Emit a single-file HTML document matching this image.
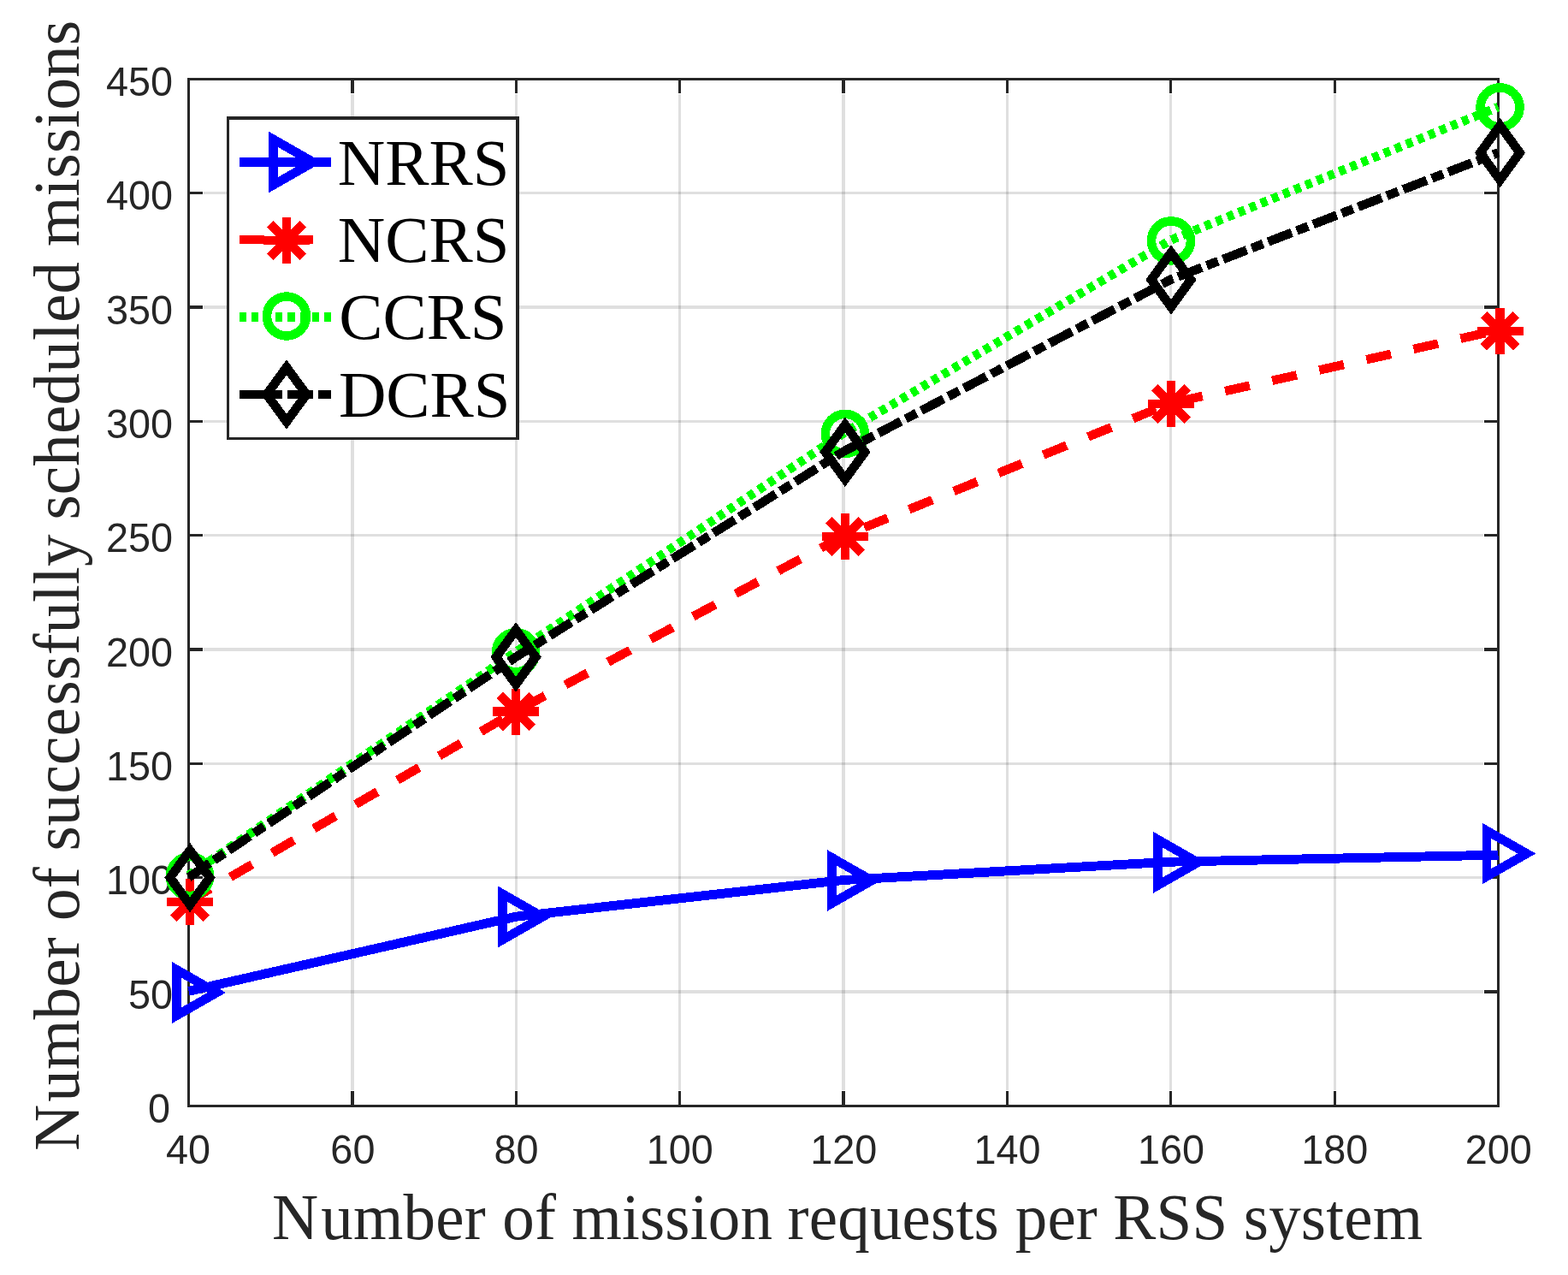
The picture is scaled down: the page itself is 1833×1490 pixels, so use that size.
<!DOCTYPE html>
<html lang="en"><head><meta charset="utf-8">
<title>Number of successfully scheduled missions</title>
<style>
html,body{margin:0;padding:0;background:#fff;}
body{width:1833px;height:1490px;overflow:hidden;}
svg{display:block;}
.tk{font-family:"Liberation Sans",Arial,Helvetica,sans-serif;font-size:46.8px;fill:#262626;}
.lb{font-family:"Liberation Serif","Times New Roman",Times,serif;font-size:75px;fill:#262626;}
.lg{font-family:"Liberation Serif","Times New Roman",Times,serif;font-size:76.8px;fill:#000;}
</style></head><body>
<svg width="1833" height="1490" viewBox="0 0 1833 1490">
<rect x="0" y="0" width="1833" height="1490" fill="#fff"/>
<g fill="#262626" fill-opacity="0.15" shape-rendering="crispEdges">
<rect x="410" y="110" width="4" height="1164"/>
<rect x="602" y="110" width="3" height="1164"/>
<rect x="793" y="110" width="3" height="1164"/>
<rect x="984" y="110" width="4" height="1164"/>
<rect x="1176" y="110" width="3" height="1164"/>
<rect x="1367" y="110" width="3" height="1164"/>
<rect x="1559" y="110" width="3" height="1164"/>
<rect x="238" y="1157" width="1496" height="4"/>
<rect x="238" y="1024" width="1496" height="3"/>
<rect x="238" y="891" width="1496" height="3"/>
<rect x="238" y="757" width="1496" height="4"/>
<rect x="238" y="624" width="1496" height="3"/>
<rect x="238" y="491" width="1496" height="3"/>
<rect x="238" y="357" width="1496" height="4"/>
<rect x="238" y="224" width="1496" height="3"/>
</g>
<g fill="#262626" shape-rendering="crispEdges">
<rect x="219" y="91" width="1534" height="3"/>
<rect x="219" y="1291" width="1534" height="3"/>
<rect x="219" y="91" width="3" height="1203"/>
<rect x="1750" y="91" width="3" height="1203"/>
<rect x="410" y="94" width="4" height="15"/>
<rect x="410" y="1275" width="4" height="16"/>
<rect x="602" y="94" width="3" height="15"/>
<rect x="602" y="1275" width="3" height="16"/>
<rect x="793" y="94" width="3" height="15"/>
<rect x="793" y="1275" width="3" height="16"/>
<rect x="984" y="94" width="4" height="15"/>
<rect x="984" y="1275" width="4" height="16"/>
<rect x="1176" y="94" width="3" height="15"/>
<rect x="1176" y="1275" width="3" height="16"/>
<rect x="1367" y="94" width="3" height="15"/>
<rect x="1367" y="1275" width="3" height="16"/>
<rect x="1559" y="94" width="3" height="15"/>
<rect x="1559" y="1275" width="3" height="16"/>
<rect x="222" y="1157" width="15" height="4"/>
<rect x="1735" y="1157" width="15" height="4"/>
<rect x="222" y="1024" width="15" height="3"/>
<rect x="1735" y="1024" width="15" height="3"/>
<rect x="222" y="891" width="15" height="3"/>
<rect x="1735" y="891" width="15" height="3"/>
<rect x="222" y="757" width="15" height="4"/>
<rect x="1735" y="757" width="15" height="4"/>
<rect x="222" y="624" width="15" height="3"/>
<rect x="1735" y="624" width="15" height="3"/>
<rect x="222" y="491" width="15" height="3"/>
<rect x="1735" y="491" width="15" height="3"/>
<rect x="222" y="357" width="15" height="4"/>
<rect x="1735" y="357" width="15" height="4"/>
<rect x="222" y="224" width="15" height="3"/>
<rect x="1735" y="224" width="15" height="3"/>
</g>
<g class="tk" text-anchor="middle">
<text transform="translate(219.9 1360) scale(1 1.02)">40</text>
<text transform="translate(412.38 1360) scale(1 1.02)">60</text>
<text transform="translate(603.45 1360) scale(1 1.02)">80</text>
<text transform="translate(794.83 1360) scale(1 1.02)">100</text>
<text transform="translate(986.2 1360) scale(1 1.02)">120</text>
<text transform="translate(1177.58 1360) scale(1 1.02)">140</text>
<text transform="translate(1368.95 1360) scale(1 1.02)">160</text>
<text transform="translate(1560.33 1360) scale(1 1.02)">180</text>
<text transform="translate(1751.7 1360) scale(1 1.02)">200</text>
</g>
<g class="tk" text-anchor="end">
<text transform="translate(199.1 1312) scale(1 1.02)">0</text>
<text transform="translate(202.1 1178.67) scale(1 1.02)">50</text>
<text transform="translate(202.1 1045.33) scale(1 1.02)">100</text>
<text transform="translate(202.1 912) scale(1 1.02)">150</text>
<text transform="translate(202.1 778.67) scale(1 1.02)">200</text>
<text transform="translate(202.1 645.33) scale(1 1.02)">250</text>
<text transform="translate(202.1 512) scale(1 1.02)">300</text>
<text transform="translate(202.1 378.67) scale(1 1.02)">350</text>
<text transform="translate(202.1 245.33) scale(1 1.02)">400</text>
<text transform="translate(202.1 112) scale(1 1.02)">450</text>
</g>
<g shape-rendering="crispEdges">
<polyline points="220.5,1158.37 603.25,1071.17 986,1028.5 1368.75,1007.17 1751.5,999.17" fill="none" stroke="#0000ff" stroke-width="10.9" stroke-linejoin="miter"/>
<polygon points="206.4,1133.2 253.3,1160 206.4,1186.8" fill="none" stroke="#0000ff" stroke-width="10.6" stroke-linejoin="miter" stroke-miterlimit="10"/>
<polygon points="587.5,1044.65 634.4,1071.45 587.5,1098.25" fill="none" stroke="#0000ff" stroke-width="10.6" stroke-linejoin="miter" stroke-miterlimit="10"/>
<polygon points="972.3,1002.2 1019.2,1029 972.3,1055.8" fill="none" stroke="#0000ff" stroke-width="10.6" stroke-linejoin="miter" stroke-miterlimit="10"/>
<polygon points="1353.4,981.1 1400.3,1007.9 1353.4,1034.7" fill="none" stroke="#0000ff" stroke-width="10.6" stroke-linejoin="miter" stroke-miterlimit="10"/>
<polygon points="1737.9,970.7 1784.8,997.5 1737.9,1024.3" fill="none" stroke="#0000ff" stroke-width="10.6" stroke-linejoin="miter" stroke-miterlimit="10"/>
<polyline points="220.5,1053.3 603.25,831.17 986,626.37 1368.75,471.17 1751.5,385.83" fill="none" stroke="#ff0000" stroke-width="10.5" stroke-linejoin="miter" stroke-dasharray="29.4 27.04"/>
<path d="M195 1054H249M222 1027V1081M202.91 1034.91L241.09 1073.09M202.91 1073.09L241.09 1034.91" fill="none" stroke="#ff0000" stroke-width="10.6"/>
<path d="M576.1 831.5H630.1M603.1 804.5V858.5M584.01 812.41L622.19 850.59M584.01 850.59L622.19 812.41" fill="none" stroke="#ff0000" stroke-width="10.6"/>
<path d="M960.9 627H1014.9M987.9 600V654M968.81 607.91L1006.99 646.09M968.81 646.09L1006.99 607.91" fill="none" stroke="#ff0000" stroke-width="10.6"/>
<path d="M1342 471.9H1396M1369 444.9V498.9M1349.91 452.81L1388.09 490.99M1349.91 490.99L1388.09 452.81" fill="none" stroke="#ff0000" stroke-width="10.6"/>
<path d="M1726.5 387H1780.5M1753.5 360V414M1734.41 367.91L1772.59 406.09M1734.41 406.09L1772.59 367.91" fill="none" stroke="#ff0000" stroke-width="10.6"/>
<polyline points="220.5,1023.17 603.25,761.83 986,506.37 1368.75,280.5 1751.5,125.03" fill="none" stroke="#00ff00" stroke-width="10.5" stroke-linejoin="miter" stroke-dasharray="8.06 6.05"/>
<circle cx="222" cy="1024" r="23" fill="none" stroke="#00ff00" stroke-width="10.6"/>
<circle cx="603.1" cy="762.2" r="23" fill="none" stroke="#00ff00" stroke-width="10.6"/>
<circle cx="987.9" cy="506.9" r="23" fill="none" stroke="#00ff00" stroke-width="10.6"/>
<circle cx="1369" cy="281.4" r="23" fill="none" stroke="#00ff00" stroke-width="10.6"/>
<circle cx="1753.5" cy="125.4" r="23" fill="none" stroke="#00ff00" stroke-width="10.6"/>
<polyline points="220.5,1025.3 603.25,767.7 986,527.7 1368.75,326.63 1751.5,178.37" fill="none" stroke="#000000" stroke-width="10.5" stroke-linejoin="miter" stroke-dasharray="29.6 6.27 14.3 6.27"/>
<polygon points="222,993.8 245.15,1025.6 222,1057.4 198.85,1025.6" fill="none" stroke="#000000" stroke-width="10.6" stroke-linejoin="miter" stroke-miterlimit="10"/>
<polygon points="603.1,736.1 626.25,767.9 603.1,799.7 579.95,767.9" fill="none" stroke="#000000" stroke-width="10.6" stroke-linejoin="miter" stroke-miterlimit="10"/>
<polygon points="987.9,496.5 1011.05,528.3 987.9,560.1 964.75,528.3" fill="none" stroke="#000000" stroke-width="10.6" stroke-linejoin="miter" stroke-miterlimit="10"/>
<polygon points="1369,295.1 1392.15,326.9 1369,358.7 1345.85,326.9" fill="none" stroke="#000000" stroke-width="10.6" stroke-linejoin="miter" stroke-miterlimit="10"/>
<polygon points="1753.5,146.7 1776.65,178.5 1753.5,210.3 1730.35,178.5" fill="none" stroke="#000000" stroke-width="10.6" stroke-linejoin="miter" stroke-miterlimit="10"/>
</g>
<rect x="266.5" y="137.5" width="338.5" height="375" fill="#fff" stroke="#262626" stroke-width="3"/>
<rect x="265" y="136" width="341.5" height="4" fill="#262626"/>
<rect x="603" y="136" width="4" height="378" fill="#262626"/>
<g shape-rendering="crispEdges">
<path d="M280 189.5H387" fill="none" stroke="#0000ff" stroke-width="10.9"/>
<polygon points="319.4,162.7 366.3,189.5 319.4,216.3" fill="none" stroke="#0000ff" stroke-width="10.6" stroke-linejoin="miter" stroke-miterlimit="10"/>
<path d="M280 280H387" fill="none" stroke="#ff0000" stroke-width="10.4" stroke-dasharray="29.4 27.04"/>
<path d="M308 280.9H362M335 253.9V307.9M315.91 261.81L354.09 299.99M315.91 299.99L354.09 261.81" fill="none" stroke="#ff0000" stroke-width="10.6"/>
<path d="M280 370.5H387" fill="none" stroke="#00ff00" stroke-width="10.9" stroke-dasharray="8.06 6.05"/>
<circle cx="335" cy="369.5" r="23" fill="none" stroke="#00ff00" stroke-width="10.6"/>
<path d="M280 461H387" fill="none" stroke="#000000" stroke-width="10.4" stroke-dasharray="29.6 6.27 14.3 6.27"/>
<polygon points="335,429.2 358.15,461 335,492.8 311.85,461" fill="none" stroke="#000000" stroke-width="10.6" stroke-linejoin="miter" stroke-miterlimit="10"/>
</g>
<g class="lg">
<text x="394.8" y="215.8">NRRS</text>
<text x="394.8" y="306">NCRS</text>
<text x="396.2" y="396.3">CCRS</text>
<text x="395.9" y="486.5">DCRS</text>
</g>
<text class="lb" xml:space="preserve" style="letter-spacing:0.19px" transform="translate(318 1448) scale(1 1.02)"><tspan>N</tspan><tspan dx="3">umber </tspan><tspan dx="0.4">of </tspan><tspan dx="-0.6">mission </tspan><tspan dx="-1.5">requests </tspan><tspan dx="-0.1">per </tspan><tspan dx="-0.7">RSS </tspan><tspan dx="-0.5">system</tspan></text>
<text class="lb" xml:space="preserve" style="letter-spacing:0.22px" transform="translate(92 1345) rotate(-90) scale(1 1.02)"><tspan>N</tspan><tspan dx="2.8">umber </tspan><tspan dx="0.2">of </tspan><tspan dx="-0.5">succe</tspan><tspan dx="2.5">ssfu</tspan><tspan dx="-1.4">lly </tspan><tspan dx="-2.3">scheduled </tspan><tspan dx="-1.3">missions</tspan></text>
</svg>
</body></html>
